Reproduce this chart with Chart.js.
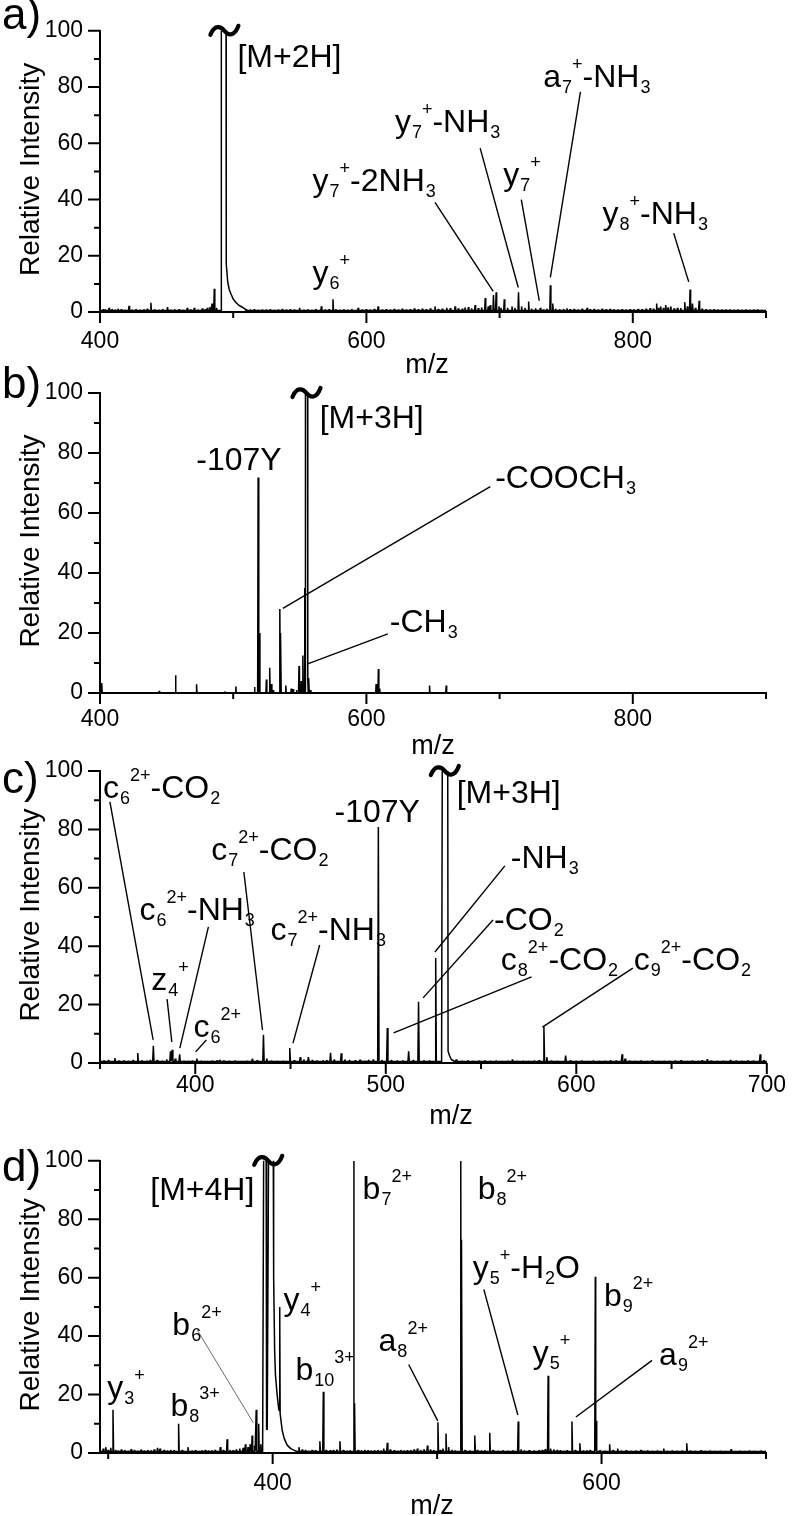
<!DOCTYPE html>
<html><head><meta charset="utf-8">
<script src="https://cdn.jsdelivr.net/npm/chart.js@4.4.1/dist/chart.umd.min.js"></script>
<style>
html,body{margin:0;padding:0;background:#fff;}
#wrap{position:relative;width:795px;height:1516px;overflow:hidden;background:#fff;}
</style></head><body><div id="wrap"></div>
<script>
const FONT = '"Liberation Sans", Arial, Helvetica, sans-serif';

// ---------- shared axis ticks ----------
const Y_TICKS = [0, 20, 40, 60, 80, 100];
const Y_MINOR = [10, 30, 50, 70, 90];

// ---------- panel a ----------
const A_X_TICKS = [400, 600, 800];
const A_X_MINOR = [500, 700, 900];
const A_MZ = [
 402.5,404,406.8,409,411,413.5,416,418.5,421.8,424,
 427,430,433,435.5,438.2,441,444,447,450.7,453,
 456,459.5,462,465.5,468,470.8,473.5,476.8,479,480.6,
 482.5,484.1,485.8,487.5,510,513,516,519,522,525,
 528,531,534,537,540,543,546,549.8,553,556,
 559,562,566.2,569,572,574.9,577,580,583,586,
 589,593.8,597,600,603,606,608.8,612,615,618,
 621,624,627,630,633,636,639,642,645,648,
 651.5,654,657,660.3,663,666.6,669,672,674,676.6,
 679,681.6,684,686.5,689.2,691.5,693,695.4,697.4,699.5,
 701,703.5,706,709.3,711.5,714.2,716.5,719,721.8,724,
 727,730.6,733,735.5,738.1,739.9,742,745,748,750.6,
 753,756,759,762,765.7,768,771,774,777,780,
 783,785.8,789,792,795,798,800.8,804,807,810,
 813,815.5,817.9,819.5,820.9,823,824.7,826.5,828.5,831,
 833.5,836,839,841,843,844.8,847,849.8,852,855,
 858,861,864,867,870,873,876,879,882,885,
 888,891,893.7,897];
const A_INT = [
 1.0,0.8,1.5,1.1,0.9,1.2,1.0,0.8,2.2,0.9,
 1.1,0.8,1.0,1.2,3.3,1.0,0.8,1.1,1.7,0.9,
 1.0,1.0,0.8,1.5,1.0,1.5,0.9,1.3,1.0,1.5,
 1.8,3.0,8.3,1.5,1.0,0.8,1.0,0.7,0.9,0.8,
 1.0,0.7,0.9,1.1,0.8,1.0,0.9,1.5,0.9,1.0,
 0.8,1.1,2.0,0.9,1.0,4.5,1.0,0.8,1.0,0.8,
 1.1,1.5,0.9,1.0,0.8,1.1,2.0,0.9,1.0,0.8,
 1.1,0.9,1.2,0.9,1.0,1.3,1.0,1.2,1.0,1.3,
 2.0,1.1,1.2,1.5,1.4,2.0,1.3,1.2,1.6,1.7,
 1.3,2.5,1.4,1.6,5.0,2.0,2.5,6.0,7.0,2.0,
 1.5,4.5,1.5,2.0,1.5,7.0,2.0,1.5,3.7,1.2,
 1.3,1.5,1.0,1.2,9.5,3.0,1.2,1.0,1.1,1.3,
 1.0,1.1,0.9,1.2,1.5,1.0,1.1,0.9,1.2,1.0,
 1.1,1.0,0.9,1.0,0.8,1.0,1.0,1.1,1.0,1.2,
 1.4,1.2,3.0,1.5,2.0,1.5,2.5,1.6,2.0,1.3,
 1.5,1.4,3.5,2.0,8.0,3.0,1.5,4.0,1.2,1.0,
 0.9,1.0,0.8,0.9,0.8,0.9,0.7,0.8,0.7,0.8,
 0.7,0.8,1.0,0.7];
const A_PROF_MZ  = [490.9, 491.1, 494.6, 494.8, 495.9, 497.0, 498.4, 500.0, 502.2, 504.5, 506.9, 509.0];
const A_PROF_INT = [0.5,   115,   115,   17,    10.7,  8.0,   6.3,   4.6,   3.3,   2.3,   1.7,   1.0];

// ---------- panel b ----------
const B_X_TICKS = [400, 600, 800];
const B_X_MINOR = [500, 700, 900];
const B_MZ = [
 401.3,444.5,456.7,472.5,493.7,502,516,518.7,519.7,524.9,
 527.4,528.7,530,535,535.7,539.5,543.6,545,547.5,549.4,
 551,552.3,553.7,556.8,558,607.3,609,610,647.4,659.9];
const B_INT = [
 3.3,0.7,5.9,2.9,0.5,2.2,2.0,71.8,20,4.5,
 8.4,3.0,1.0,28,20,2.5,1.5,1.3,1.0,9,
 4,12.5,35,5,1,3,8,1.5,2.5,2.5];
const B_PROF_MZ  = [554.1, 554.4, 555.8, 556.0, 556.35];
const B_PROF_INT = [0,     115,   115,   4,     0];

// ---------- panel c ----------
const C_X_TICKS = [400, 500, 600, 700];
const C_X_MINOR = [350, 450, 550, 650];
const C_MZ = [
 352,354.5,357.8,360,362.5,365,367.5,369.8,372,374.5,
 376.5,378,380,382.5,385,387,387.9,389.5,391.8,394,
 396.5,398.5,400.8,403,406,409,411.5,412.9,415,418,
 421,424,427,430,432.5,435.8,437.5,440,443,446,
 449.6,452,455.1,457,459.4,461.5,464,467,469,471,
 473,476.6,478.5,481,484,486.5,489,491,493.5,496.1,
 498,500.8,503,506,509,512,514.5,517.2,520,523,
 526.2,537,540,543,546,549,552,555,558,561,
 564,566.5,569,572,575,578,580.5,583,584.5,587,
 590,594.4,597,600,603,606,609,612,615,618,
 621,624,625.6,628,631,634,637,640,643,646,
 649,652,655,658,661,664,666,668.8,671,674,
 677,681,684,687,690,693,696.5,698.5];
const C_INT = [
 0.9,1.0,1.7,0.8,0.9,0.7,1.0,3.4,0.9,0.8,
 1.0,5.9,1.0,0.8,1.2,4.0,4.5,1.5,3.0,0.8,
 0.7,0.8,1.5,0.8,0.7,0.8,0.9,1.1,0.9,0.7,
 0.8,0.7,0.8,1.5,0.9,9.7,1.5,0.8,0.7,0.8,
 5.1,0.9,2.0,1.2,2.0,1.0,0.8,0.9,1.0,3.5,
 1.2,3.3,1.2,1.0,0.9,1.1,0.8,1.0,1.2,80.8,
 1.0,12,1.0,0.8,0.9,4.0,1.0,21,0.9,0.8,
 36,1.2,0.8,0.9,0.7,0.8,0.9,0.7,0.8,0.7,
 0.8,1.2,0.7,0.8,0.7,0.8,0.9,12.5,2.0,0.8,
 0.7,2.5,0.9,0.7,0.8,0.7,0.8,0.7,0.8,0.9,
 0.8,3.0,1.5,0.8,0.7,0.8,0.7,0.9,0.7,0.8,
 0.7,0.8,0.9,0.7,0.8,0.7,0.9,1.3,0.8,0.7,
 0.8,1.0,0.8,0.7,0.9,0.8,3.0,1.0];
const C_PROF_MZ  = [529.3, 529.7, 532.5, 532.7, 533.5, 534.4, 536.0];
const C_PROF_INT = [0.5,   115,   115,   4,     2.5,   1.2,   0.6];

// ---------- panel d ----------
const D_X_TICKS = [400, 600];
const D_X_MINOR = [300, 500, 700];
const D_MZ = [
 297,298.5,300,301.5,302.9,304.5,306,308,310,312,
 314,316,318,320,322,324,326,328,330,331.5,
 334,336,338,340,342.8,345,348.5,351,353,355,
 357,359,361,363,365,368.2,370,372.3,374,376,
 378,380,382,383.4,385,386.3,387.5,389,390,391.5,
 392.8,416,418,420,422,424,426,428.7,430.8,432.5,
 435,437,439,440.9,443,445,447,449.4,449.8,452,
 454,456,458,460,462,464,466,467.5,469.7,471.5,
 474,476,478,480,482,484,486,488,490,492,
 494.1,496,498,500.5,502,503.5,505.4,507,509,511,
 514.4,514.9,517,520,522.9,524.5,527,529,532,534,
 537,540,543,546,549.3,551,553,556,559,562,
 564,565.8,567.5,569,571,573,575,577,579,582,
 584,586.8,589,591,593,596.2,596.7,599,602,604.9,
 607,609.8,612,615,618,621,624,626,628,631,
 634,637.8,640,643,646,649,651.8,654,657,660.5,
 663,666,669,672,675,678.8,681,684,687,690,
 693,697];
const D_INT = [
 1.5,2.0,1.0,1.8,14.8,1.0,0.8,1.2,1.0,0.8,
 1.3,1.0,0.8,1.1,0.8,1.0,0.9,1.2,1.8,1.5,
 1.0,0.8,1.0,0.9,10,1.0,2.0,0.8,0.9,0.7,
 0.9,1.0,0.8,0.9,1.0,2.0,1.0,4.7,1.0,0.9,
 1.2,1.5,1.8,3.0,2.0,3.0,6.0,2.5,14.8,10,
 3.0,2.0,1.2,1.0,0.8,1.0,0.9,4.0,21,1.0,
 0.9,1.0,1.2,4.0,1.0,0.8,0.9,100,17,1.0,
 0.8,1.0,0.9,0.8,0.9,1.0,0.8,1.5,3.5,1.2,
 0.9,0.8,1.0,0.8,0.9,1.0,1.2,1.5,1.0,1.3,
 2.5,1.2,1.0,10.5,1.0,1.5,6.7,2.0,1.0,0.8,
 100,73,1.0,0.8,6.0,1.0,0.8,0.9,6.9,1.0,
 0.8,0.9,0.8,0.9,10.8,1.2,0.8,0.9,0.8,0.9,
 1.0,1.3,26.4,1.5,1.2,1.0,0.9,0.8,0.9,10.8,
 1.0,3.3,0.8,0.9,1.0,60.3,11,1.0,0.8,3.0,
 1.0,1.5,0.8,0.9,0.7,0.8,1.0,0.7,0.9,0.7,
 0.8,1.5,0.7,0.8,0.7,0.8,3.3,0.8,0.7,0.9,
 0.7,0.8,0.7,0.8,0.7,1.3,0.7,0.8,0.7,0.8,
 0.7,0.8];
const D_PROF_MZ  = [393.9,394.6,396.0,396.3,396.7,397.6,400.3,400.6,401.2,401.7,402.7,403.7,404.05,404.3,404.55,405.8,407.0,408.8,411.0,412.9,414.5];
const D_PROF_INT = [0.5,  115,  115,  8,    8,    115,  115,  60,   35,   26.7, 20,   15,   14.5,  50,   13.5,  7.7,  5.0,  2.7,  1.5,  1.0,  0.6];

// ---------- annotations (text anchored in data coords: left edge m/z, baseline intensity) ----------
const A_LABELS = [
 {t:'[M+2H]', x:503.2, y:87.3},
 {t:'y_{6}^{+}', x:559.6, y:10.3},
 {t:'y_{7}^{+}-2NH_{3}', x:559.6, y:43, l:[651.5,39,695.2,7.3]},
 {t:'y_{7}^{+}-NH_{3}', x:621.4, y:64, l:[685.4,58.3,714,8.7]},
 {t:'y_{7}^{+}', x:702.7, y:45.3, l:[716.3,40,729.8,4]},
 {t:'a_{7}^{+}-NH_{3}', x:732.8, y:80, l:[760.7,78.3,738.1,12.3]},
 {t:'y_{8}^{+}-NH_{3}', x:777.3, y:31.3, l:[830.7,28,842,10.7]}
];
const B_LABELS = [
 {t:'[M+3H]', x:564.9, y:88.3},
 {t:'-107Y', x:472.3, y:74.3},
 {t:'-COOCH_{3}', x:696.7, y:68.3, l:[537.3,28.2,693,68.8]},
 {t:'-CH_{3}', x:617.6, y:20.3, l:[555.9,9.7,616.1,19.7]}
];
const C_LABELS = [
 {t:'c_{6}^{2+}-CO_{2}', x:351.6, y:90.8, l:[355.2,89.4,377.9,7.9]},
 {t:'c_{7}^{2+}-CO_{2}', x:408.4, y:69.5, l:[425.5,65.4,435.3,11.3]},
 {t:'c_{6}^{2+}-NH_{3}', x:370.7, y:49, l:[406.9,46.6,391.9,5.1]},
 {t:'c_{7}^{2+}-NH_{3}', x:439.5, y:42.1, l:[465.3,40.4,451.3,6.8]},
 {t:'z_{4}^{+}', x:376.9, y:25, l:[385.2,21.9,387.7,7.2]},
 {t:'c_{6}^{2+}', x:399.1, y:8.9, l:[405.8,7.9,400.2,3.8]},
 {t:'-107Y', x:473.1, y:82.5},
 {t:'[M+3H]', x:537.2, y:89},
 {t:'-NH_{3}', x:565.6, y:66.8, l:[562.5,67.5,525.8,38]},
 {t:'-CO_{2}', x:556.8, y:45.5, l:[556.3,49,519.6,22.3]},
 {t:'c_{8}^{2+}-CO_{2}', x:560.4, y:31.8, l:[576.5,29.5,504.1,10.3]},
 {t:'c_{9}^{2+}-CO_{2}', x:630.2, y:31.8, l:[629.7,32.5,582.2,12.3]}
];
const D_LABELS = [
 {t:'[M+4H]', x:325.6, y:86.7},
 {t:'b_{7}^{2+}', x:454.7, y:87},
 {t:'b_{8}^{2+}', x:524.7, y:87},
 {t:'y_{4}^{+}', x:406.6, y:49},
 {t:'b_{6}^{2+}', x:339, y:40.3, l:[354.2,42,388.3,10.3], thin:true},
 {t:'b_{10}^{3+}', x:413.9, y:25},
 {t:'y_{3}^{+}', x:299.4, y:18.7},
 {t:'b_{8}^{3+}', x:337.8, y:12.7},
 {t:'a_{8}^{2+}', x:464.4, y:35, l:[482.7,30.3,500.4,11]},
 {t:'y_{5}^{+}-H_{2}O', x:521.7, y:60, l:[528.4,56,549.1,13]},
 {t:'y_{5}^{+}', x:558.2, y:30.7},
 {t:'b_{9}^{2+}', x:601.5, y:50.3},
 {t:'a_{9}^{2+}', x:635, y:30, l:[630.7,31.7,584.4,12.3]}
];

// ---------- panel layout ----------
const PANELS = [
 {letter:'a)', letterY:29,  top:0,    height:380, areaTop:12,   areaBottom:312,  right:766, xmin:400, xmax:900,
  xTicks:A_X_TICKS, xMinor:A_X_MINOR, mz:A_MZ, int:A_INT, pmz:A_PROF_MZ, pint:A_PROF_INT, base:0.5, hw:0.4,
  labels:A_LABELS, tilde:493.4, xpad:16, xTitleX:427},
 {letter:'b)', letterY:398, top:355,  height:405, areaTop:393,  areaBottom:693,  right:766, xmin:400, xmax:900,
  xTicks:B_X_TICKS, xMinor:B_X_MINOR, mz:B_MZ, int:B_INT, pmz:B_PROF_MZ, pint:B_PROF_INT, base:0, hw:0.35,
  labels:B_LABELS, tilde:555, xpad:13, xTitleX:433},
 {letter:'c)', letterY:793, top:740,  height:390, areaTop:771,  areaBottom:1063, right:777, xmin:350, xmax:700,
  xTicks:C_X_TICKS, xMinor:C_X_MINOR, mz:C_MZ, int:C_INT, pmz:C_PROF_MZ, pint:C_PROF_INT, base:0.5, hw:0.35,
  labels:C_LABELS, tilde:531, xpad:9, xTitleX:451},
 {letter:'d)', letterY:1181, top:1130, height:386, areaTop:1153, areaBottom:1453, right:766, xmin:295, xmax:700,
  xTicks:D_X_TICKS, xMinor:D_X_MINOR, mz:D_MZ, int:D_INT, pmz:D_PROF_MZ, pint:D_PROF_INT, base:0.5, hw:0.35,
  labels:D_LABELS, tilde:397.3, xpad:17, xTitleX:432}
];

function buildSpectrum(P){
  const pts = [{x:P.xmin, y:P.base}, {x:P.xmax, y:P.base}];
  for (let i = 0; i < P.mz.length; i++){
    pts.push({x:P.mz[i]-P.hw, y:P.base}, {x:P.mz[i], y:P.int[i]}, {x:P.mz[i]+P.hw, y:P.base});
  }
  for (let i = 0; i < P.pmz.length; i++) pts.push({x:P.pmz[i], y:P.pint[i]});
  pts.sort((p, q) => p.x - q.x);
  return pts;
}

function parseLabel(s){
  const segs = []; let i = 0;
  const isMark = k => (s[k] === '_' || s[k] === '^') && s[k+1] === '{';
  while (i < s.length){
    if (isMark(i)){
      const j = s.indexOf('}', i);
      segs.push({t:s.slice(i+2, j), k: s[i] === '_' ? 'sub' : 'sup'}); i = j + 1;
    } else {
      let j = i; while (j < s.length && !isMark(j)) j++;
      segs.push({t:s.slice(i, j), k:'n'}); i = j;
    }
  }
  return segs;
}
function drawLabel(ctx, s, x, y){
  let cx = x;
  ctx.textAlign = 'left'; ctx.textBaseline = 'alphabetic';
  for (const seg of parseLabel(s)){
    if (seg.k === 'n'){ ctx.font = '32px ' + FONT; ctx.fillText(seg.t, cx, y); cx += ctx.measureText(seg.t).width; }
    else if (seg.k === 'sub'){ ctx.font = '18px ' + FONT; ctx.fillText(seg.t, cx + 1, y + 6); cx += ctx.measureText(seg.t).width + 1; }
    else { ctx.font = '18px ' + FONT; ctx.fillText(seg.t, cx, y - 17); cx += ctx.measureText(seg.t).width; }
  }
}

function makeOverlay(P){
  return {
    id:'overlay' + P.letter,
    afterDraw(chart){
      const ctx = chart.ctx, xs = chart.scales.x, ys = chart.scales.y, ca = chart.chartArea;
      ctx.save();
      ctx.strokeStyle = '#000'; ctx.fillStyle = '#000'; ctx.lineCap = 'butt';
      // tick marks
      ctx.lineWidth = 2;
      ctx.beginPath();
      for (const v of Y_TICKS){ const y = ys.getPixelForValue(v); ctx.moveTo(ca.left - 12, y); ctx.lineTo(ca.left, y); }
      for (const v of Y_MINOR){ const y = ys.getPixelForValue(v); ctx.moveTo(ca.left - 6, y); ctx.lineTo(ca.left, y); }
      for (const v of P.xTicks){ const x = xs.getPixelForValue(v); ctx.moveTo(x, ca.bottom); ctx.lineTo(x, ca.bottom + 11); }
      for (const v of P.xMinor){ const x = xs.getPixelForValue(v); ctx.moveTo(x, ca.bottom); ctx.lineTo(x, ca.bottom + 6); }
      ctx.stroke();
      // axis titles
      ctx.font = '27px ' + FONT; ctx.textAlign = 'center'; ctx.textBaseline = 'alphabetic';
      ctx.fillText('m/z', P.xTitleX, ca.bottom + 61);
      ctx.save();
      ctx.translate(31, (ca.top + ca.bottom) / 2 - 2); ctx.rotate(-Math.PI / 2);
      ctx.font = '28px ' + FONT; ctx.textBaseline = 'middle';
      ctx.fillText('Relative Intensity', 0, 0);
      ctx.restore();
      // panel letter
      ctx.font = '44px ' + FONT; ctx.textAlign = 'left'; ctx.textBaseline = 'alphabetic';
      ctx.fillText(P.letter, 2, P.letterY - P.top);
      // leaders
      for (const L of P.labels){
        if (!L.l) continue;
        ctx.beginPath();
        ctx.lineWidth = L.thin ? 0.8 : 1.4;
        ctx.strokeStyle = L.thin ? '#444' : '#000';
        ctx.moveTo(xs.getPixelForValue(L.l[0]), ys.getPixelForValue(L.l[1]));
        ctx.lineTo(xs.getPixelForValue(L.l[2]), ys.getPixelForValue(L.l[3]));
        ctx.stroke();
      }
      ctx.strokeStyle = '#000';
      // labels
      for (const L of P.labels) drawLabel(ctx, L.t, xs.getPixelForValue(L.x), ys.getPixelForValue(L.y));
      // axis break tilde on the clipped peak
      const cx = xs.getPixelForValue(P.tilde), cy = ys.getPixelForValue(100) + 1;
      ctx.lineWidth = 4.2; ctx.lineCap = 'round';
      ctx.beginPath();
      ctx.moveTo(cx - 14, cy + 3);
      ctx.bezierCurveTo(cx - 10, cy - 7, cx - 4, cy - 6, cx, cy - 1);
      ctx.bezierCurveTo(cx + 4, cy + 4, cx + 10, cy + 5, cx + 14, cy - 6);
      ctx.stroke();
      ctx.restore();
    }
  };
}

function makeChart(P){
  const box = document.createElement('div');
  box.style.cssText = 'position:absolute;left:0;top:' + P.top + 'px;width:795px;height:' + P.height + 'px;';
  const cv = document.createElement('canvas');
  box.appendChild(cv);
  document.getElementById('wrap').appendChild(box);
  const tickFont = {family: FONT, size: 23};
  new Chart(cv, {
    type: 'line',
    data: {datasets: [{
      data: buildSpectrum(P), borderColor: '#000', borderWidth: 1.5, pointRadius: 0,
      tension: 0, fill: false, borderJoinStyle: 'bevel', clip: {left: 2, top: 0, right: 2, bottom: 2}
    }]},
    options: {
      responsive: true, maintainAspectRatio: false, animation: false, events: [],
      layout: {padding: {left: 0, top: P.areaTop - P.top, right: 795 - P.right, bottom: 0}},
      plugins: {legend: {display: false}, tooltip: {enabled: false}},
      scales: {
        x: {
          type: 'linear', min: P.xmin, max: P.xmax,
          grid: {display: false, drawTicks: false},
          border: {display: true, color: '#000', width: 2},
          ticks: {font: tickFont, color: '#000', padding: P.xpad, maxRotation: 0, autoSkip: false},
          afterBuildTicks: s => { s.ticks = P.xTicks.map(v => ({value: v})); },
          afterFit: s => { s.height = (P.top + P.height) - P.areaBottom; }
        },
        y: {
          type: 'linear', min: 0, max: 100,
          grid: {display: false, drawTicks: false},
          border: {display: true, color: '#000', width: 2},
          ticks: {font: tickFont, color: '#000', padding: 17, autoSkip: false},
          afterBuildTicks: s => { s.ticks = Y_TICKS.map(v => ({value: v})); },
          afterFit: s => { s.width = 100; }
        }
      }
    },
    plugins: [makeOverlay(P)]
  });
}

PANELS.forEach(makeChart);
</script>
</body></html>
